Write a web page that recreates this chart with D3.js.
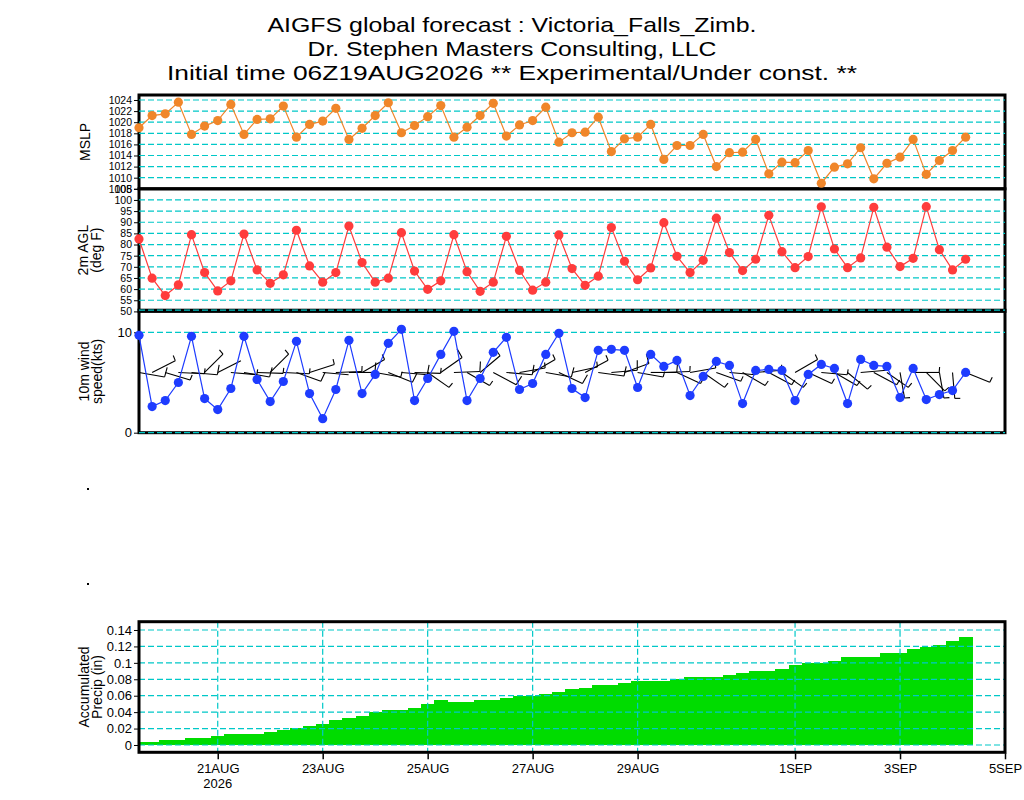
<!DOCTYPE html>
<html>
<head>
<meta charset="utf-8">
<script src="https://cdn.jsdelivr.net/npm/d3@7"></script>
<style>
  body { margin: 0; background: white; }
  text { font-family: "Liberation Sans", Arial, sans-serif; fill: black; }
</style>
</head>
<body>
<div id="chart"></div>
<script>
// forecast hours after the 06Z19AUG2026 run
var fhours = d3.range(6, 390, 6);

var mslp = [1019.0, 1021.2, 1021.5, 1023.6, 1017.8, 1019.3, 1020.3, 1023.2, 1017.8, 1020.5, 1020.6, 1022.9,
  1017.3, 1019.6, 1020.2, 1022.5, 1016.9, 1018.9, 1021.2, 1023.5, 1018.1, 1019.4, 1021.0, 1023.0,
  1017.3, 1019.1, 1021.2, 1023.4, 1017.5, 1019.5, 1020.3, 1022.7, 1016.4, 1018.1, 1018.2, 1020.9,
  1014.7, 1017.0, 1017.3, 1019.6, 1013.3, 1015.8, 1015.8, 1017.8, 1012.0, 1014.5, 1014.6, 1016.9,
  1010.7, 1012.8, 1012.7, 1014.9, 1009.0, 1011.9, 1012.5, 1015.4, 1009.8, 1012.6, 1013.7, 1016.9,
  1010.6, 1013.1, 1014.9, 1017.3];

var temp2m = [82.5, 64.9, 57.1, 61.9, 84.4, 67.4, 59.2, 63.7, 84.7, 68.6, 62.6, 66.4,
  86.4, 70.4, 63.1, 67.4, 88.3, 71.9, 63.1, 64.9, 85.3, 68.1, 59.9, 63.7,
  84.4, 67.8, 59.0, 63.1, 83.7, 68.4, 59.5, 63.1, 84.3, 69.2, 61.7, 65.8,
  87.6, 72.5, 64.2, 69.5, 89.8, 74.7, 67.4, 72.9, 91.8, 76.4, 68.3, 73.4,
  93.1, 76.8, 69.6, 74.6, 96.9, 78.0, 69.6, 74.0, 96.7, 78.8, 70.1, 73.8,
  97.0, 77.7, 68.6, 73.4];

var windSpd = [9.7, 2.6, 3.2, 5.0, 9.6, 3.4, 2.3, 4.4, 9.6, 5.3, 3.1, 5.1,
  9.1, 3.9, 1.4, 4.3, 9.2, 3.9, 5.8, 8.9, 10.3, 3.2, 5.4, 7.8,
  10.1, 3.2, 5.4, 8.0, 9.5, 4.3, 4.9, 7.8, 9.9, 4.4, 3.5, 8.2,
  8.3, 8.2, 4.5, 7.8, 6.6, 7.2, 3.7, 5.6, 7.1, 6.7, 2.9, 6.2,
  6.3, 6.2, 3.2, 5.8, 6.8, 6.4, 2.9, 7.3, 6.7, 6.6, 3.5, 6.4,
  3.3, 3.8, 4.2, 6.0];

// direction the wind blows from (deg)
var windDir = [100, 63, 107, 93, 95, 45, 63, 95, 100, 92, 45, 93,
  110, 72, 95, 88, 90, 60, 100, 112, 95, 92, 125, 55,
  88, 120, 50, 118, 95, 80, 60, 100, 115, 78, 62, 98,
  85, 70, 100, 90, 88, 115, 80, 125, 110, 95, 120, 85,
  118, 125, 60, 115, 95, 120, 130, 85, 118, 125, 170, 90,
  135, 170, 175, 112];

var precipAcc = [0.0033, 0.0033, 0.006, 0.006, 0.0085, 0.0085, 0.0114, 0.0138, 0.0138, 0.0138, 0.0158, 0.0186,
  0.0203, 0.023, 0.0256, 0.0304, 0.0329, 0.0357, 0.0398, 0.0426, 0.0426, 0.045, 0.0499, 0.0543,
  0.0523, 0.0523, 0.0548, 0.0548, 0.0572, 0.0596, 0.0596, 0.062, 0.0645, 0.0682, 0.0694, 0.073,
  0.073, 0.0755, 0.078, 0.078, 0.078, 0.0804, 0.0828, 0.0828, 0.0828, 0.0852, 0.0877, 0.0901,
  0.0901, 0.0925, 0.0974, 0.0994, 0.0994, 0.1018, 0.1071, 0.1071, 0.1071, 0.112, 0.112, 0.1168,
  0.1196, 0.1217, 0.1265, 0.1314];

var dateTicks = ["2026-08-21", "2026-08-23", "2026-08-25", "2026-08-27", "2026-08-29", "2026-09-01", "2026-09-03", "2026-09-05"];
var dateLabels = ["21AUG", "23AUG", "25AUG", "27AUG", "29AUG", "1SEP", "3SEP", "5SEP"];

var mslpTicks = [1008, 1010, 1012, 1014, 1016, 1018, 1020, 1022, 1024];
var tempTicks = [50, 55, 60, 65, 70, 75, 80, 85, 90, 95, 100, 105];
var windTicks = [0, 10];
var precipTicks = [0, 0.02, 0.04, 0.06, 0.08, 0.1, 0.12, 0.14];

var titles = ["AIGFS global forecast : Victoria_Falls_Zimb.",
  "Dr. Stephen Masters Consulting, LLC",
  "Initial time 06Z19AUG2026  ** Experimental/Under const. **"];

var left = 139, right = 1005;
var grid = "#00c8c8";

var svg = d3.select("#chart")
  .append("svg")
  .attr("width", 1024)
  .attr("height", 800)
  .style("background", "white");

var init = Date.UTC(2026, 7, 19, 6);
var times = fhours.map(function (h) { return new Date(init + h * 3600000); });

var x = d3.scaleUtc()
  .domain([new Date(Date.UTC(2026, 7, 19, 12)), new Date(Date.UTC(2026, 8, 5, 0))])
  .range([left, right]);

var yP = d3.scaleLinear().domain([1008, 1024.9]).range([188.8, 95]);
var yT = d3.scaleLinear().domain([50, 105]).range([311.4, 188.8]);
var yW = d3.scaleLinear().domain([0, 12.2]).range([432.7, 310.2]);
var yR = d3.scaleLinear().domain([-0.0089, 0.1501]).range([752.3, 621.7]);

// titles
var tLen = [489, 409, 690];
var tBase = [32, 56, 80];
svg.selectAll(".title")
  .data(titles)
  .enter()
  .append("text")
  .attr("class", "title")
  .attr("x", 512)
  .attr("y", function (d, i) { return tBase[i]; })
  .attr("text-anchor", "middle")
  .attr("textLength", function (d, i) { return tLen[i]; })
  .attr("lengthAdjust", "spacingAndGlyphs")
  .style("font-size", "21px")
  .text(function (d) { return d; });

// y axis: labels and outward ticks
function yAxis(y, ticks, fmt, size) {
  var g = svg.append("g");
  g.call(d3.axisLeft(y).tickValues(ticks).tickSize(5).tickPadding(2).tickFormat(fmt))
    .attr("transform", "translate(" + left + ",0)");
  g.select(".domain").remove();
  g.selectAll("text").style("font-size", size).style("font-family", "'Liberation Sans', Arial, sans-serif");
  return g;
}

function gridLines(y, ticks) {
  svg.append("g")
    .selectAll("line")
    .data(ticks)
    .enter()
    .append("line")
    .attr("x1", left)
    .attr("x2", right)
    .attr("y1", function (d) { return y(d); })
    .attr("y2", function (d) { return y(d); })
    .attr("stroke", grid)
    .attr("stroke-width", 1.2)
    .attr("stroke-dasharray", "6,3");
}

function frame(y) {
  var r = y.range();
  svg.append("rect")
    .attr("x", left)
    .attr("y", r[1])
    .attr("width", right - left)
    .attr("height", r[0] - r[1])
    .attr("fill", "none")
    .attr("stroke", "black")
    .attr("stroke-width", 3);
}

yAxis(yP, mslpTicks, d3.format("d"), "10.5px");
yAxis(yT, tempTicks, d3.format("d"), "10.5px");
yAxis(yW, windTicks, d3.format("d"), "13px");
yAxis(yR, precipTicks, function (d) { return d === 0 ? "0" : String(+d.toFixed(2)); }, "13px");

frame(yP);
frame(yT);
frame(yW);

// precip bars
svg.append("clipPath")
  .attr("id", "pclip")
  .append("rect")
  .attr("x", left)
  .attr("y", yR.range()[1])
  .attr("width", right - left)
  .attr("height", yR.range()[0] - yR.range()[1]);

svg.append("g")
  .attr("clip-path", "url(#pclip)")
  .attr("shape-rendering", "crispEdges")
  .selectAll("rect")
  .data(precipAcc)
  .enter()
  .append("rect")
  .attr("x", function (d, i) { return x(new Date(+times[i] - 3 * 3600000)); })
  .attr("width", function (d, i) { return x(new Date(+times[i] + 3 * 3600000)) - x(new Date(+times[i] - 3 * 3600000)) + 1; })
  .attr("y", function (d) { return yR(d); })
  .attr("height", function (d) { return yR(0) - yR(d); })
  .attr("fill", "#00dc00");

gridLines(yP, mslpTicks.slice(1));
gridLines(yT, tempTicks.slice(1, 11));
gridLines(yW, [0, 10, 12.2]);
gridLines(yR, precipTicks);

// vertical date gridlines in the precip panel
svg.append("g")
  .selectAll("line")
  .data(dateTicks.slice(0, 7))
  .enter()
  .append("line")
  .attr("x1", function (d) { return x(new Date(d + "T00:00:00Z")); })
  .attr("x2", function (d) { return x(new Date(d + "T00:00:00Z")); })
  .attr("y1", yR.range()[1])
  .attr("y2", yR.range()[0])
  .attr("stroke", grid)
  .attr("stroke-width", 1.2)
  .attr("stroke-dasharray", "6,3");

frame(yR);

// x axis under the precip panel
var xa = svg.append("g")
  .attr("transform", "translate(0," + (yR.range()[0] + 1) + ")")
  .call(d3.axisBottom(x)
    .tickValues(dateTicks.map(function (d) { return new Date(d + "T00:00:00Z"); }))
    .tickSize(6)
    .tickPadding(4)
    .tickFormat(function (d, i) { return dateLabels[i]; }));
xa.select(".domain").remove();
xa.selectAll("line").attr("stroke-width", 1.5);
xa.selectAll("text").style("font-size", "13px").style("font-family", "'Liberation Sans', Arial, sans-serif");

svg.append("text")
  .attr("x", x(new Date("2026-08-21T00:00:00Z")))
  .attr("y", 788)
  .attr("text-anchor", "middle")
  .style("font-size", "13px")
  .text("2026");

// line + dot series
function series(y, vals, color) {
  var line = d3.line()
    .x(function (d, i) { return x(times[i]); })
    .y(function (d) { return y(d); });
  svg.append("path")
    .datum(vals)
    .attr("d", line)
    .attr("fill", "none")
    .attr("stroke", color)
    .attr("stroke-width", 1.2);
  svg.append("g")
    .selectAll("circle")
    .data(vals)
    .enter()
    .append("circle")
    .attr("cx", function (d, i) { return x(times[i]); })
    .attr("cy", function (d) { return y(d); })
    .attr("r", 4.6)
    .attr("fill", color);
}

series(yP, mslp, "#f0862a");
series(yT, temp2m, "#ff3c3c");

// wind barbs, staff points toward where the wind comes from
var barbLen = 26;
var barbs = svg.append("g").attr("stroke", "black").attr("stroke-width", 1.1).attr("fill", "none");
windDir.forEach(function (dir, i) {
  var a = dir * Math.PI / 180;
  var ux = Math.sin(a), uy = -Math.cos(a);
  var x0 = x(times[i]), y0 = yW(6);
  var x1 = x0 + ux * barbLen, y1 = y0 + uy * barbLen;
  barbs.append("line").attr("x1", x0).attr("y1", y0).attr("x2", x1).attr("y2", y1);
  var s = windSpd[i];
  var fl = s >= 7.5 ? 10 : (s >= 2.5 ? 5.5 : 0);
  if (fl > 0) {
    var r = -85 * Math.PI / 180;
    var fx = ux * Math.cos(r) - uy * Math.sin(r);
    var fy = ux * Math.sin(r) + uy * Math.cos(r);
    barbs.append("line").attr("x1", x1).attr("y1", y1).attr("x2", x1 + fx * fl).attr("y2", y1 + fy * fl);
  }
});

series(yW, windSpd, "#1e3cff");

// panel titles (rotated)
function sideLabel(lines, yMid, xs) {
  lines.forEach(function (t, i) {
    svg.append("text")
      .attr("transform", "translate(" + xs[i] + "," + yMid + ") rotate(-90)")
      .attr("text-anchor", "middle")
      .style("font-size", "14px")
      .text(t);
  });
}
sideLabel(["MSLP"], (yP.range()[0] + yP.range()[1]) / 2, [90]);
sideLabel(["2m  AGL", "(deg  F)"], (yT.range()[0] + yT.range()[1]) / 2, [88, 101]);
sideLabel(["10m  wind", "speed(kts)"], (yW.range()[0] + yW.range()[1]) / 2, [89, 102]);
sideLabel(["Accumulated", "Precip  (in)"], (yR.range()[0] + yR.range()[1]) / 2, [89, 102]);

// stray dots left of the empty panels
svg.append("rect").attr("x", 87).attr("y", 488).attr("width", 2).attr("height", 2).attr("fill", "black");
svg.append("rect").attr("x", 87).attr("y", 583).attr("width", 2).attr("height", 2).attr("fill", "black");
</script>
</body>
</html>
